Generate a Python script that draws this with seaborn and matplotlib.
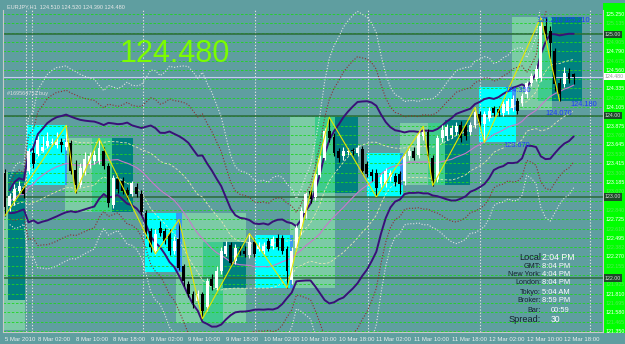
import numpy as np
import pandas as pd
import matplotlib
matplotlib.use("Agg")
import matplotlib.pyplot as plt
import seaborn as sns
from matplotlib.patches import Rectangle

# ---------------- data (EURJPY H1) ----------------
opens = [123.30, 122.89, 122.95, 123.07, 123.11, 123.32, 123.54, 123.53, 123.57, 123.63,
         123.66, 123.64, 123.68, 123.62, 123.66, 123.33, 123.15, 123.30, 123.40, 123.44,
         123.44, 123.56, 123.38, 122.90, 123.22, 123.20, 123.08, 123.04, 123.12, 123.04,
         122.80, 122.58, 122.34, 122.62, 122.58, 122.55, 122.34, 122.48, 122.15, 121.93,
         121.81, 121.72, 121.80, 121.64, 121.99, 121.88, 122.09, 122.30, 122.41, 122.21,
         122.36, 122.34, 122.28, 122.44, 122.36, 122.34, 122.46, 122.40, 122.50, 122.50,
         122.36, 121.98, 122.37, 122.60, 122.80, 123.07, 123.00, 123.27, 123.48, 123.81,
         123.74, 123.56, 123.50, 123.55, 123.57, 123.54, 123.59, 123.40, 123.31, 123.30,
         123.16, 123.16, 123.24, 123.26, 123.28, 123.20, 123.50, 123.56, 123.52, 123.75,
         123.80, 123.48, 123.22, 123.72, 123.75, 123.76, 123.80, 123.88, 123.87, 123.80,
         123.88, 124.02, 123.90, 123.97, 124.09, 124.08, 124.03, 124.06, 124.09, 124.18,
         124.15, 124.26, 124.40, 124.45, 124.46, 125.10, 125.04, 124.79, 124.40, 124.39,
         124.52, 124.51]
highs = [123.34, 123.05, 123.16, 123.20, 123.15, 123.60, 123.60, 123.75, 123.75, 123.80,
         123.72, 123.80, 123.72, 123.88, 123.70, 123.45, 123.42, 123.55, 123.55, 123.58,
         123.72, 123.62, 123.42, 123.27, 123.26, 123.24, 123.12, 123.20, 123.17, 123.08,
         122.84, 122.62, 122.60, 122.70, 122.62, 122.60, 122.52, 122.72, 122.18, 121.97,
         121.84, 121.86, 121.83, 122.00, 122.05, 122.15, 122.38, 122.46, 122.45, 122.42,
         122.40, 122.40, 122.55, 122.48, 122.44, 122.45, 122.50, 122.52, 122.54, 122.53,
         122.40, 122.38, 122.66, 122.88, 123.06, 123.12, 123.31, 123.52, 123.85, 123.98,
         123.79, 123.60, 123.62, 123.60, 123.60, 123.64, 123.63, 123.44, 123.34, 123.34,
         123.28, 123.36, 123.33, 123.30, 123.32, 123.54, 123.60, 123.62, 123.82, 123.87,
         123.84, 123.52, 123.76, 123.88, 123.90, 123.88, 123.92, 123.93, 123.90, 123.92,
         124.10, 124.06, 124.06, 124.10, 124.12, 124.12, 124.18, 124.22, 124.25, 124.22,
         124.28, 124.43, 124.53, 124.62, 125.21, 125.21, 125.10, 124.83, 124.46, 124.60,
         124.58, 124.52]
lows = [122.77, 122.83, 122.90, 123.03, 122.99, 123.28, 123.36, 123.50, 123.55, 123.60,
        123.63, 123.60, 123.55, 123.58, 123.28, 123.05, 123.12, 123.27, 123.36, 123.40,
        123.40, 123.34, 122.88, 122.86, 123.05, 123.04, 122.98, 123.01, 123.00, 122.78,
        122.50, 122.32, 122.30, 122.52, 122.42, 122.28, 122.30, 122.10, 121.90, 121.77,
        121.63, 121.68, 121.50, 121.60, 121.86, 121.85, 122.05, 122.27, 122.15, 122.18,
        122.28, 122.26, 122.25, 122.26, 122.34, 122.30, 122.33, 122.36, 122.35, 122.30,
        121.88, 121.93, 122.34, 122.55, 122.74, 122.93, 122.96, 123.24, 123.45, 123.68,
        123.50, 123.43, 123.46, 123.51, 123.52, 123.50, 123.28, 123.24, 123.20, 123.00,
        123.12, 123.12, 123.20, 123.14, 123.04, 123.15, 123.46, 123.45, 123.48, 123.70,
        123.45, 123.14, 123.18, 123.68, 123.70, 123.72, 123.76, 123.68, 123.70, 123.76,
        123.85, 123.85, 123.67, 123.93, 123.99, 124.00, 124.00, 124.02, 124.06, 124.02,
        124.12, 124.22, 124.36, 124.42, 124.43, 124.95, 124.70, 124.30, 124.18, 124.35,
        124.40, 124.39]
closes = [122.87, 123.01, 123.10, 123.13, 123.03, 123.56, 123.40, 123.70, 123.61, 123.69,
          123.67, 123.68, 123.64, 123.68, 123.32, 123.15, 123.36, 123.47, 123.50, 123.52,
          123.60, 123.38, 122.92, 123.23, 123.10, 123.07, 123.02, 123.17, 123.04, 122.82,
          122.55, 122.38, 122.55, 122.56, 122.46, 122.34, 122.46, 122.13, 121.97, 121.81,
          121.69, 121.80, 121.60, 121.97, 121.90, 122.09, 122.34, 122.40, 122.19, 122.37,
          122.31, 122.30, 122.44, 122.30, 122.40, 122.40, 122.36, 122.48, 122.38, 122.34,
          122.09, 122.34, 122.62, 122.83, 123.03, 122.98, 123.28, 123.48, 123.81, 123.72,
          123.54, 123.48, 123.57, 123.57, 123.56, 123.60, 123.32, 123.28, 123.26, 123.11,
          123.25, 123.32, 123.29, 123.18, 123.16, 123.50, 123.56, 123.48, 123.78, 123.80,
          123.50, 123.20, 123.72, 123.82, 123.86, 123.85, 123.87, 123.72, 123.75, 123.88,
          124.05, 123.91, 124.02, 124.06, 124.03, 124.03, 124.14, 124.18, 124.20, 124.06,
          124.24, 124.40, 124.49, 124.57, 125.10, 125.00, 124.89, 124.39, 124.26, 124.52,
          124.45, 124.48]

time_label_bars = [0, 7, 15, 23, 31, 39, 47, 55, 63, 71, 79, 87, 95, 103, 111, 119]
time_labels = ["5 Mar 2010", "8 Mar 02:00", "8 Mar 10:00", "8 Mar 18:00", "9 Mar 02:00",
               "9 Mar 10:00", "9 Mar 18:00", "10 Mar 02:00", "10 Mar 10:00", "10 Mar 18:00",
               "11 Mar 02:00", "11 Mar 10:00", "11 Mar 18:00", "12 Mar 02:00",
               "12 Mar 10:00", "12 Mar 18:00"]
day_breaks = [4.5, 5.7, 29.4, 53.2, 77.2, 101.1, 124.5]

price_ticks = [125.250, 125.020, 124.790, 124.560, 124.335, 124.105, 123.875, 123.645,
               123.415, 123.185, 122.955, 122.725, 122.495, 122.270, 122.040, 121.810,
               121.580, 121.350]
round_levels = [125.00, 124.00, 123.00, 122.00]
round_labels = ["125.00", "124.00", "123.00", "122.00"]
last_price = 124.48

# session boxes
box_kind = ["pale", "teal", "cyan", "pale", "medium", "teal", "cyan", "pale", "medium",
            "teal", "cyan", "pale", "medium", "teal", "cyan", "pale", "medium", "teal",
            "cyan", "pale", "medium", "teal"]
box_start = [-0.5, 0.6, 4.7, 12.8, 18.5, 22.8, 29.8, 36.4, 42.1, 46.4, 53.2, 60.6, 66.0,
             70.2, 77.0, 84.0, 90.0, 93.6, 100.9, 107.9, 113.4, 116.4]
box_end = [4.3, 4.3, 13.2, 27.2, 22.8, 27.2, 37.7, 51.3, 46.4, 51.3, 61.3, 70.2, 70.2,
           75.1, 84.7, 93.6, 93.6, 98.9, 108.7, 116.4, 116.4, 122.8]
box_high = [123.31, 123.31, 123.885, 123.725, 123.725, 123.725, 122.80, 122.80, 122.45,
            122.45, 122.53, 123.98, 123.98, 123.98, 123.54, 123.91, 123.91, 123.95,
            124.35, 125.21, 125.21, 125.21]
box_low = [121.36, 121.73, 123.15, 122.815, 122.815, 122.815, 122.08, 121.45, 121.45,
           121.88, 121.88, 121.88, 123.05, 123.05, 123.00, 123.15, 123.15, 123.15,
           123.67, 124.07, 124.18, 124.18]

# zigzag swing points
zz_bars = [0, 13, 15, 20, 32, 37, 42, 52, 60, 69, 79, 89, 91, 100, 102, 114, 118]
zz_side = ["L", "H", "L", "H", "L", "H", "L", "H", "L", "H", "L", "H", "L", "H", "L", "H", "L"]

# level labels on the chart
lvl_text = ["125.210", "125.210", "124.350", "123.670", "124.070", "124.180"]
lvl_bar = [113.0, 118.9, 106.3, 106.0, 114.9, 120.2]
lvl_price = [125.21, 125.21, 124.35, 123.67, 124.07, 124.18]

clock_names = ["Local", "GMT", "New York", "London", "Tokyo", "Broker", "Bar", "Spread"]
clock_values = ["2:04 PM", "8:04 PM", "4:04 PM", "8:04 PM", "5:04 AM", "8:59 PM", "00:59", "30"]

# ---------------- styling ----------------
sns.set_theme(style="dark")
plt.rcParams['font.family'] = ['Liberation Sans', 'DejaVu Sans']

BG = '#5F9EA0'
fig = plt.figure(figsize=(6.25, 3.44), dpi=100, facecolor=BG)
W, H = 625, 344
ax = fig.add_axes([3 / W, 12 / H, 600 / W, 322 / H])
ax.set_facecolor(BG)

def py(y):  # price at pixel row (used only for limits)
    return 125.25 - (y - 14) / 81.3

ax.set_ylim(py(332), py(10))
ax.set_xlim(-0.43, 127.23)

# right price strip
fig.patches.append(Rectangle((603 / W, 11 / H), 22 / W, 330 / H, transform=fig.transFigure,
                             facecolor='#00FF00', edgecolor='none', zorder=-1))

box_colors = {"pale": '#7CCBA6', "medium": '#3FCB8E', "teal": '#008080', "cyan": '#00FFFF'}
for k, s, e, hi, lo in zip(box_kind, box_start, box_end, box_high, box_low):
    ax.add_patch(Rectangle((s, lo), e - s, hi - lo, facecolor=box_colors[k],
                           edgecolor='none', zorder=1 if k == "pale" else 1.5))
# overlap of Asian box with following European box shows blue
for i, k in enumerate(box_kind):
    if k != "cyan":
        continue
    for j, k2 in enumerate(box_kind):
        if k2 != "pale":
            continue
        s = max(box_start[i], box_start[j]); e = min(box_end[i], box_end[j])
        lo = max(box_low[i], box_low[j]); hi = min(box_high[i], box_high[j])
        if e > s and hi > lo:
            ax.add_patch(Rectangle((s, lo), e - s, hi - lo, facecolor='#3A9AF5',
                                   edgecolor='none', zorder=1.6))

# grid: dashed green at every tick and half tick
minor_ticks = [(a + b) / 2 for a, b in zip(price_ticks[:-1], price_ticks[1:])]
for p in price_ticks + minor_ticks:
    ax.axhline(p, color='#1ED61E', lw=0.6, ls=(0, (3, 2)), zorder=2)

for b in day_breaks:
    ax.axvline(b, color='#E0E0E0', lw=0.8, ls=(0, (1.2, 1.6)), zorder=2.2)

for p in round_levels:
    ax.axhline(p, color='#2C6A3A', lw=1.1, zorder=2.3)
ax.axhline(last_price, color='#C8CCEE', lw=0.8, zorder=2.3)

# ---------------- bands (Bollinger 20 on close) ----------------
df = pd.DataFrame({"bar": np.arange(len(closes)), "close": closes})
mid = df.close.rolling(20, min_periods=2).mean()
sd = df.close.rolling(20, min_periods=2).std(ddof=0)
band_specs = [(4, '#E4E4E4', 0.8, (0, (1, 1.6))),
              (3, '#8E2E2E', 0.8, (0, (1, 1.6))),
              (1, '#E8E6B4', 0.6, (0, (3, 2))),
              (2, '#3A1078', 1.4, '-')]
for k, col, lw, ls in band_specs:
    for sgn in (1, -1):
        sns.lineplot(x=df.bar, y=mid + sgn * k * sd, ax=ax, color=col, lw=lw,
                     linestyle=ls, zorder=3)
sns.lineplot(x=df.bar, y=mid, ax=ax, color='#C879CC', lw=0.8, zorder=3)

# ---------------- candles ----------------
o = np.array(opens); h = np.array(highs); l = np.array(lows); c = np.array(closes)
x = np.arange(len(o))
up = c >= o
ax.vlines(x[up], l[up], h[up], color='white', lw=0.8, zorder=5)
ax.vlines(x[~up], l[~up], h[~up], color='black', lw=0.8, zorder=5)
ax.bar(x[up], np.maximum(c - o, 0.012)[up], bottom=o[up], width=0.62, color='white',
       edgecolor='none', zorder=6)
ax.bar(x[~up], np.maximum(o - c, 0.012)[~up], bottom=c[~up], width=0.62, color='black',
       edgecolor='none', zorder=6)

# zigzag
zz_y = [highs[b] if s == "H" else lows[b] for b, s in zip(zz_bars, zz_side)]
sns.lineplot(x=zz_bars, y=zz_y, ax=ax, color='#E6E600', lw=0.8, sort=False,
             estimator=None, zorder=7)

# level labels
for t, b, p in zip(lvl_text, lvl_bar, lvl_price):
    ax.text(b, p, t, color='#1E3CFF', fontsize=5.3, ha='left', va='top', zorder=8)

# ---------------- axes ----------------
ax.spines['top'].set_visible(False)
for side in ['left', 'bottom', 'right']:
    ax.spines[side].set_color('#C8C8C8')
    ax.spines[side].set_linewidth(0.8)
ax.grid(False)
ax.set_xticks(time_label_bars)
ax.set_xticklabels(time_labels)
ax.tick_params(axis='x', length=2.5, width=0.6, color='#D8D8D8', pad=1.2,
               labelsize=4.3, labelcolor='#EEEEEE')
for lab in ax.get_xticklabels():
    lab.set_ha('left')

# price scale: skip labels hidden under the highlighted level boxes
marked = round_levels + [last_price]
def free(p):
    return all(abs(p - m) > 0.05 for m in marked)
maj = [p for p in price_ticks if free(p)]
mnr = [p for p in minor_ticks if free(p)]
ax.yaxis.tick_right()
ax.set_yticks(maj)
ax.set_yticklabels([f"{p:.3f}" for p in maj])
ax.set_yticks(mnr, minor=True)
ax.set_yticklabels([f"{p:.3f}" for p in mnr], minor=True)
ax.tick_params(axis='y', which='major', length=0, pad=1.6, labelsize=3.8, labelcolor='white')
ax.tick_params(axis='y', which='minor', length=0, pad=1.6, labelsize=3.8, labelcolor='#5CE85C')
ax.set_xlabel(""); ax.set_ylabel("")

ytr = ax.get_yaxis_transform()
for p, t in zip(round_levels, round_labels):
    ax.text(1.003, p, t, transform=ytr, fontsize=3.8, color='#D8D8D8', ha='left',
            va='center', clip_on=False, zorder=10,
            bbox=dict(facecolor='#1D4A28', edgecolor='none', pad=0.9))
ax.text(1.003, last_price, f"{last_price:.3f}", transform=ytr, fontsize=3.8, color='#9A9A9A',
        ha='left', va='center', clip_on=False, zorder=10,
        bbox=dict(facecolor='white', edgecolor='none', pad=0.9))

# ---------------- texts ----------------
fig.text(7 / W, 1 - 7 / H, "EURJPY,H1  124.510 124.520 124.390 124.480", fontsize=4.0,
         color='#E8E8E8', ha='left', va='center')
fig.text(7 / W, 1 - 93 / H, "#169564752 buy", fontsize=4.0, color='#DDDDDD',
         ha='left', va='center')
fig.text(120 / W, 1 - 54 / H, f"{last_price:.3f}", fontsize=22, color='#7CFC00',
         ha='left', va='center')

clock_y = [257, 266, 274, 283, 292, 301, 310, 319]
for name, val, yy in zip(clock_names, clock_values, clock_y):
    big = name in ("Local", "Spread")
    fs = 6.6 if big else 5.2
    fig.text(541 / W, 1 - yy / H, name + ("" if name == "Local" else ":"), fontsize=fs,
             color='#14202C', ha='right', va='center')
    vx = 551 if name in ("Bar", "Spread") else 542
    fig.text(vx / W, 1 - yy / H, val, fontsize=6.2 if big else 5.4, color='white',
             ha='left', va='center')

fig.savefig("out.png", dpi=100, facecolor=BG)
